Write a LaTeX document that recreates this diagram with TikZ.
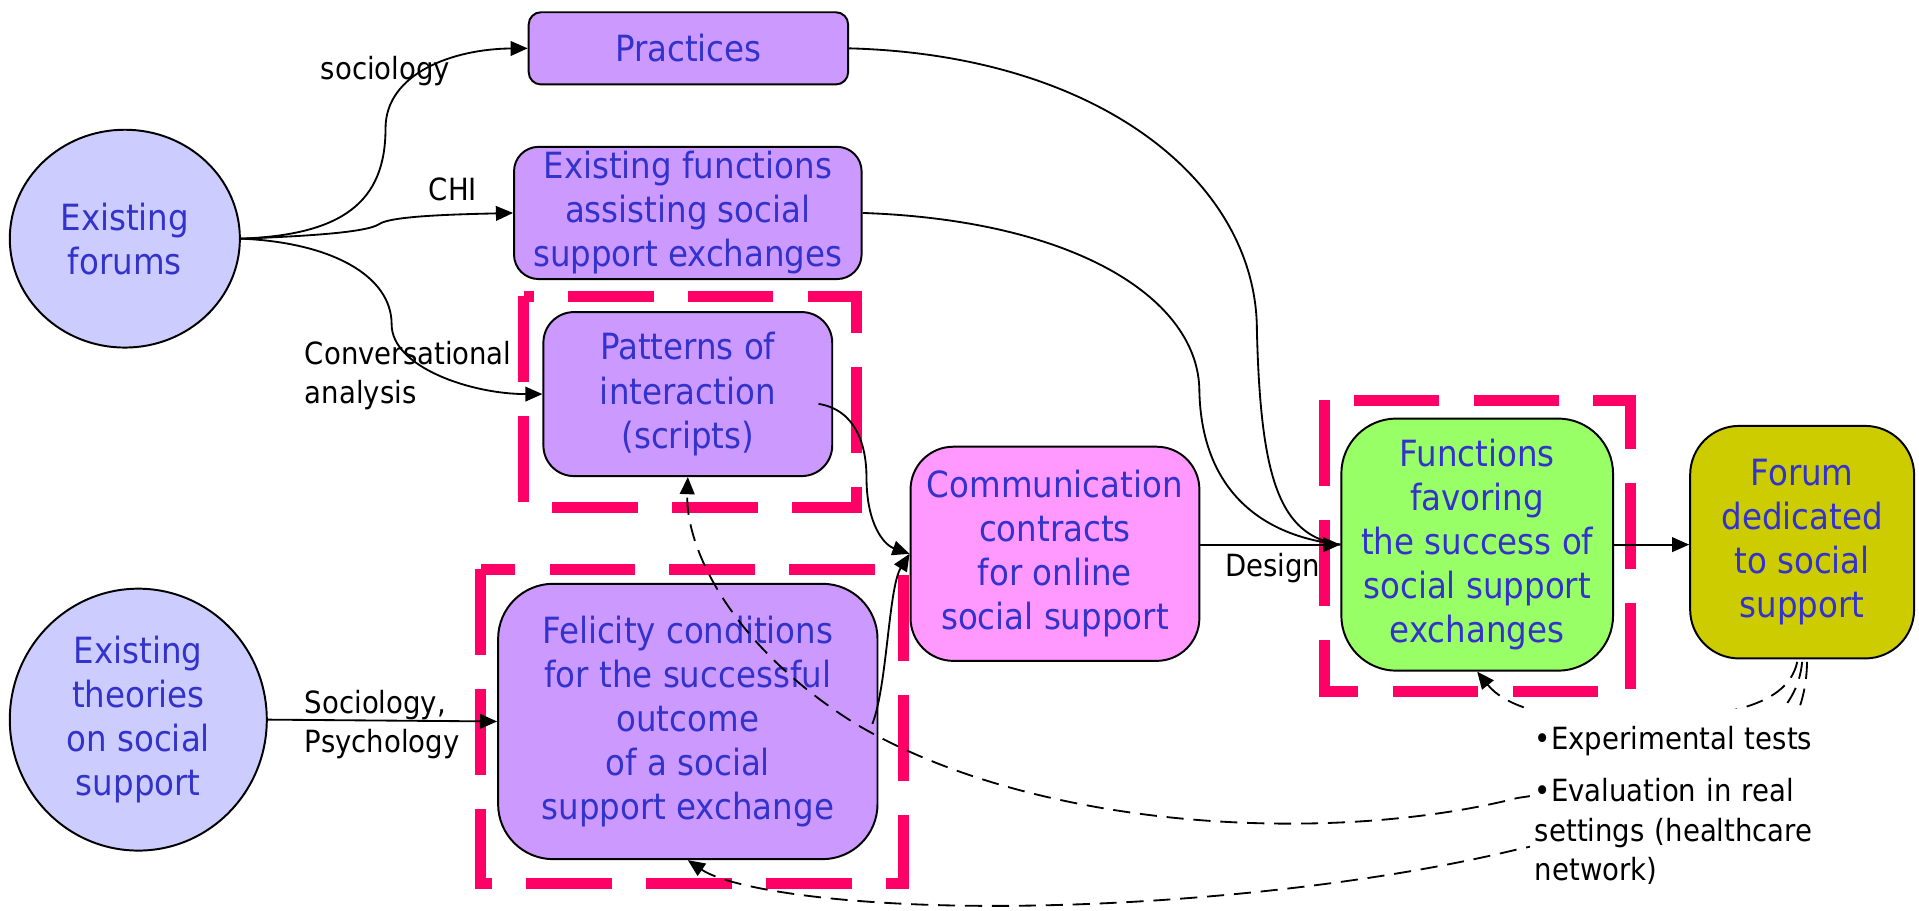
\documentclass[tikz,border=0pt]{standalone}
\usepackage{fontspec}
\setmainfont{DejaVu Sans Condensed}
\usetikzlibrary{arrows.meta,shapes.geometric,calc}
\definecolor{ellc}{HTML}{CCCCFF}
\definecolor{purp}{HTML}{CC99FF}
\definecolor{commc}{HTML}{FF99FF}
\definecolor{funcc}{HTML}{99FF66}
\definecolor{forumc}{HTML}{CCCC00}
\definecolor{txtblue}{HTML}{3333CC}
\definecolor{pinkc}{HTML}{FF0066}
\tikzset{
  box/.style={draw=black, line width=1.6pt, rounded corners=#1, align=center, text=txtblue,
    font=\fontsize{29.5}{36}\selectfont, inner sep=0pt},
  box/.default=20pt,
  ell/.style={ellipse, draw=black, line width=1.6pt, fill=ellc, align=center, text=txtblue,
    font=\fontsize{29.5}{36}\selectfont, inner sep=0pt},
  conn/.style={line width=1.5pt, -{Triangle[length=14pt,width=12pt]}},
  plainconn/.style={line width=1.5pt},
  fb/.style={conn, dash pattern=on 14pt off 8pt},
  pinkframe/.style={draw=pinkc, line width=9pt, dash pattern=on 70pt off 28pt},
  lab/.style={font=\fontsize{25}{32}\selectfont, text=black, inner sep=1pt}
}
\begin{document}
\begin{tikzpicture}[x=1pt,y=-1pt]
\useasboundingbox (0,0) rectangle (1568,744);
% pink dashed frames
\draw[pinkframe] (428,242) rectangle (700,415);
\draw[pinkframe] (393,465) rectangle (738,722);
\draw[pinkframe] (1082,327) rectangle (1332,565);
% nodes
\node[ell, minimum width=188pt, minimum height=178pt] (forums) at (102,195) {Existing\\forums};
\node[ell, minimum width=210pt, minimum height=214pt] (theories) at (113,588) {Existing\\theories\\on social\\support};
\node[box=10pt, fill=purp, minimum width=261pt, minimum height=59pt] (practices) at (562.5,39.5) {Practices};
\node[box=20pt, fill=purp, minimum width=284pt, minimum height=108pt] (exfun) at (562,174) {Existing functions\\assisting social\\support exchanges};
\node[box=25pt, fill=purp, minimum width=236pt, minimum height=134pt] (patterns) at (562,322) {Patterns of\\interaction\\(scripts)};
\node[box=45pt, fill=purp, minimum width=310pt, minimum height=225pt] (felicity) at (562,589.5) {Felicity conditions\\for the successful\\outcome\\of a social\\support exchange};
\node[box=35pt, fill=commc, minimum width=236pt, minimum height=175pt] (comm) at (862,452.5) {Communication\\contracts\\for online\\social support};
\node[box=45pt, fill=funcc, minimum width=222pt, minimum height=206pt] (functions) at (1207,445) {Functions\\favoring\\the success of\\social support\\exchanges};
\node[box=40pt, fill=forumc, minimum width=183pt, minimum height=190pt] (forum) at (1472.5,443) {Forum\\dedicated\\to social\\support};
% labels
\node[lab] (lsoc) at (315,58) {sociology};
\node[lab] (lchi) at (370,155) {CHI};
\node[lab, align=left, anchor=west] (lconv) at (248,307) {Conversational\\analysis};
\node[lab, align=left, anchor=west] (lsocpsy) at (248,592) {Sociology,\\Psychology};
\node[lab] (ldesign) at (1040,464) {Design};
% connectors
\draw[conn] (forums.east) .. controls (280,192) and (315,165) .. (315,105) .. controls (315,60) and (370,40) .. (practices.west);
\draw[conn] (forums.east) .. controls (250,193) and (300,190) .. (310,183) .. controls (320,176) and (380,175) .. (exfun.west);
\draw[conn] (forums.east) .. controls (270,198) and (320,225) .. (320,265) .. controls (320,300) and (385,322) .. (patterns.west);
\draw[plainconn] (practices.east) .. controls (900,45) and (1027,150) .. (1027,270) .. controls (1030,390) and (1045,438) .. (functions.west);
\draw[plainconn] (exfun.east) .. controls (880,180) and (980,245) .. (980,320) .. controls (982,400) and (1030,438) .. (functions.west);
\draw[conn] ($(patterns.east)+(-12,8)$) .. controls (700,335) and (708,365) .. (708,390) .. controls (708,428) and (722,445) .. (comm.west);
\draw[conn] ($(felicity.east)+(-5,2)$) .. controls (725,560) and (726,480) .. (comm.west);
\draw[conn] (theories.east) -- (felicity.west);
\draw[conn] (comm.east |- functions.west) -- (functions.west);
\draw[conn] (functions.east) -- (functions.east -| forum.west);
% feedback dashed
\draw[fb] ($(forum.south)+(-4,2)$) .. controls (1460,580) and (1400,588) .. (1320,588) .. controls (1260,588) and (1228,575) .. (functions.south);
\draw[fb] ($(forum.south)+(0,2)$) .. controls (1465,625) and (1320,640) .. (1240,652) .. controls (1090,690) and (850,680) .. (700,592) .. controls (600,530) and (560,450) .. (patterns.south);
\draw[fb] ($(forum.south)+(4,2)$) .. controls (1475,650) and (1350,670) .. (1240,694) .. controls (1100,728) and (900,745) .. (750,739) .. controls (650,735) and (590,722) .. (felicity.south);
% text
\node[lab, fill=white, align=left, anchor=north west, inner xsep=4pt, inner ysep=14pt, text width=250pt] (tests) at (1250,579) {•Experimental tests\\[11pt]•Evaluation in real\\settings (healthcare\\network)};
\end{tikzpicture}
\end{document}
